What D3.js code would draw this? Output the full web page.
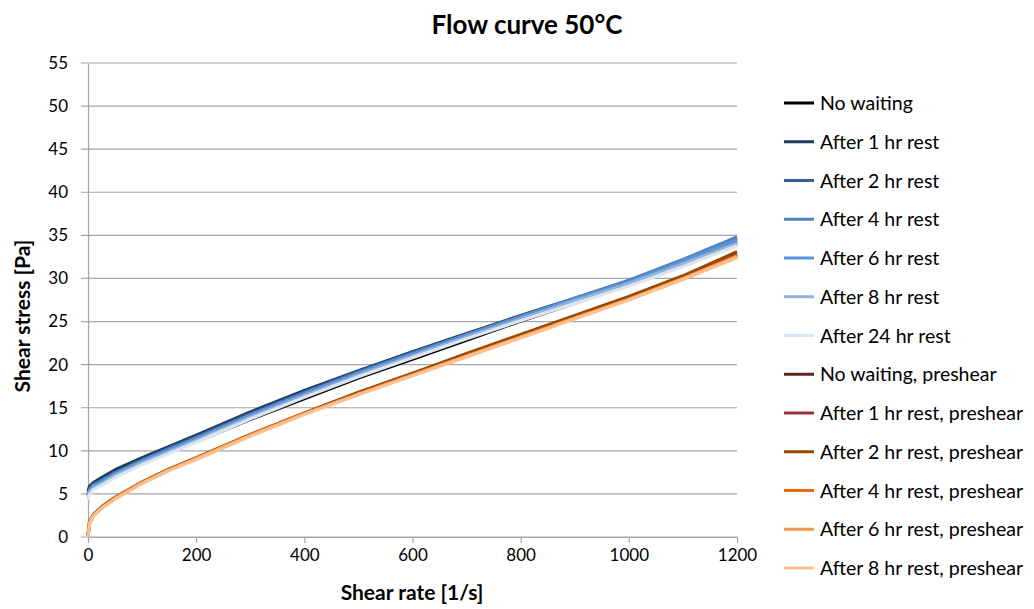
<!DOCTYPE html>
<html>
<head>
<meta charset="utf-8">
<script src="https://cdn.jsdelivr.net/npm/d3@7/dist/d3.min.js"></script>
<style>
  body { margin: 0; background: #fff; }
  text { font-family: Lato, "Open Sans", sans-serif; fill: #000; }
</style>
</head>
<body>
<div id="chart"></div>
<script>
// shear rate points [1/s]
var shearRate = [0, 3, 10, 25, 50, 100, 150, 200, 300, 400, 500, 600, 700, 800, 900, 1000, 1100, 1200];

// shear stress [Pa] per run
var noWaiting    = [5.0, 5.5, 6.0, 6.4, 7.3, 8.6, 9.8, 11.0, 13.6, 16.0, 18.4, 20.6, 22.8, 25.0, 27.1, 29.2, 31.5, 34.0];
var after1hr     = [5.3, 5.9, 6.3, 6.9, 7.8, 9.2, 10.5, 11.8, 14.5, 17.0, 19.3, 21.5, 23.6, 25.7, 27.7, 29.7, 31.9, 34.3];
var after2hr     = [5.0, 5.6, 6.1, 6.6, 7.5, 8.9, 10.3, 11.6, 14.3, 16.8, 19.2, 21.4, 23.5, 25.6, 27.6, 29.7, 32.1, 34.7];
var after4hr     = [4.9, 5.5, 6.0, 6.5, 7.4, 8.9, 10.2, 11.5, 14.2, 16.7, 19.1, 21.3, 23.5, 25.6, 27.7, 29.8, 32.2, 34.8];
var after6hr     = [4.8, 5.4, 5.9, 6.4, 7.3, 8.8, 10.1, 11.4, 14.1, 16.6, 19.0, 21.2, 23.4, 25.5, 27.6, 29.6, 32.0, 34.5];
var after8hr     = [4.6, 5.2, 5.7, 6.2, 7.1, 8.6, 9.9, 11.2, 13.9, 16.4, 18.8, 21.0, 23.2, 25.3, 27.4, 29.4, 31.7, 34.1];
var after24hr    = [4.3, 4.9, 5.5, 6.0, 6.9, 8.4, 9.7, 11.0, 13.7, 16.2, 18.6, 20.8, 23.0, 25.1, 27.1, 29.1, 31.4, 33.8];
var noWaitingPre = [0.1, 1.7, 2.5, 3.4, 4.5, 6.3, 7.8, 9.1, 11.8, 14.3, 16.7, 18.9, 21.1, 23.3, 25.5, 27.7, 30.1, 32.8];
var after1hrPre  = [0.1, 1.7, 2.5, 3.4, 4.5, 6.3, 7.8, 9.1, 11.8, 14.3, 16.7, 18.9, 21.1, 23.3, 25.5, 27.7, 30.1, 32.7];
var after2hrPre  = [0.2, 1.8, 2.6, 3.5, 4.6, 6.4, 7.9, 9.2, 11.9, 14.4, 16.8, 19.0, 21.3, 23.5, 25.7, 27.9, 30.3, 33.1];
var after4hrPre  = [0.1, 1.7, 2.5, 3.4, 4.5, 6.3, 7.8, 9.1, 11.8, 14.3, 16.6, 18.8, 21.0, 23.2, 25.4, 27.6, 29.9, 32.5];
var after6hrPre  = [0.1, 1.7, 2.5, 3.4, 4.5, 6.3, 7.8, 9.1, 11.8, 14.3, 16.6, 18.8, 21.0, 23.2, 25.4, 27.6, 30.0, 32.6];
var after8hrPre  = [0.0, 1.6, 2.4, 3.3, 4.4, 6.2, 7.7, 9.0, 11.7, 14.2, 16.5, 18.7, 20.9, 23.1, 25.3, 27.5, 29.9, 32.4];

var seriesNames = ["No waiting", "After 1 hr rest", "After 2 hr rest", "After 4 hr rest", "After 6 hr rest",
  "After 8 hr rest", "After 24 hr rest", "No waiting, preshear", "After 1 hr rest, preshear",
  "After 2 hr rest, preshear", "After 4 hr rest, preshear", "After 6 hr rest, preshear", "After 8 hr rest, preshear"];
var seriesValues = [noWaiting, after1hr, after2hr, after4hr, after6hr, after8hr, after24hr,
  noWaitingPre, after1hrPre, after2hrPre, after4hrPre, after6hrPre, after8hrPre];
var seriesColors = ["#000000", "#1f3a5c", "#36609a", "#4f81bd", "#5b93d8", "#95b3d7", "#dce6f2",
  "#632523", "#953735", "#984807", "#e46c0a", "#f79646", "#fac090"];

var xTicks = [0, 200, 400, 600, 800, 1000, 1200];
var yTicks = [0, 5, 10, 15, 20, 25, 30, 35, 40, 45, 50, 55];

var width = 1034, height = 609;
var margin = {top: 63, right: 297, bottom: 72, left: 88};

var svg = d3.select("#chart").append("svg").attr("width", width).attr("height", height);

var x = d3.scaleLinear().domain([0, 1200]).range([margin.left, width - margin.right]);
var y = d3.scaleLinear().domain([0, 55]).range([height - margin.bottom, margin.top]);

// gridlines
svg.append("g").selectAll("line").data(yTicks).enter().append("line")
  .attr("x1", x(0) - 7).attr("x2", x(1200))
  .attr("y1", function(d) { return y(d); }).attr("y2", function(d) { return y(d); })
  .attr("stroke", "#a6a6a6").attr("stroke-width", 1.2);

// y axis
var yAxis = svg.append("g").attr("transform", "translate(" + x(0) + ",0)")
  .call(d3.axisLeft(y).tickValues(yTicks).tickSize(0).tickPadding(20));
yAxis.select(".domain").attr("stroke", "#a6a6a6").attr("stroke-width", 1.2);
yAxis.selectAll("text").style("font-size", "17px").style("font-family", "Lato, sans-serif");

// x axis
var xAxis = svg.append("g").attr("transform", "translate(0," + y(0) + ")")
  .call(d3.axisBottom(x).tickValues(xTicks).tickFormat(d3.format("d")).tickSize(6).tickSizeOuter(0).tickPadding(6));
xAxis.select(".domain").attr("stroke", "#a6a6a6").attr("stroke-width", 1.2);
xAxis.selectAll(".tick line").attr("stroke", "#a6a6a6").attr("stroke-width", 1.2);
xAxis.selectAll("text").style("font-size", "17px").style("font-family", "Lato, sans-serif");

// lines
var line = d3.line()
  .x(function(d, i) { return x(shearRate[i]); })
  .y(function(d) { return y(d); });

svg.append("g").selectAll("path").data(seriesValues).enter().append("path")
  .attr("d", line)
  .attr("fill", "none")
  .attr("stroke", function(d, i) { return seriesColors[i]; })
  .attr("stroke-width", function(d, i) { return i == 0 ? 2.5 : 3.2; })
  .attr("stroke-linejoin", "round");

// title
svg.append("text").attr("x", 527).attr("y", 34).attr("text-anchor", "middle")
  .style("font-size", "26px").style("font-weight", "bold").text("Flow curve 50°C");

svg.append("text").attr("x", 412).attr("y", 600).attr("text-anchor", "middle")
  .style("font-size", "21px").style("font-weight", "bold").text("Shear rate [1/s]");

svg.append("text").attr("transform", "translate(30," + 316 + ") rotate(-90)").attr("text-anchor", "middle")
  .style("font-size", "21px").style("font-weight", "bold").text("Shear stress [Pa]");

// legend
var legend = svg.append("g").selectAll("g").data(seriesNames).enter().append("g")
  .attr("transform", function(d, i) { return "translate(784," + (103 + i * 38.75) + ")"; });
legend.append("line").attr("x1", 0).attr("x2", 30).attr("y1", 0).attr("y2", 0)
  .attr("stroke", function(d, i) { return seriesColors[i]; }).attr("stroke-width", 3);
legend.append("text").attr("x", 36).attr("y", 7).style("font-size", "19.5px").text(function(d) { return d; });
</script>
</body>
</html>
